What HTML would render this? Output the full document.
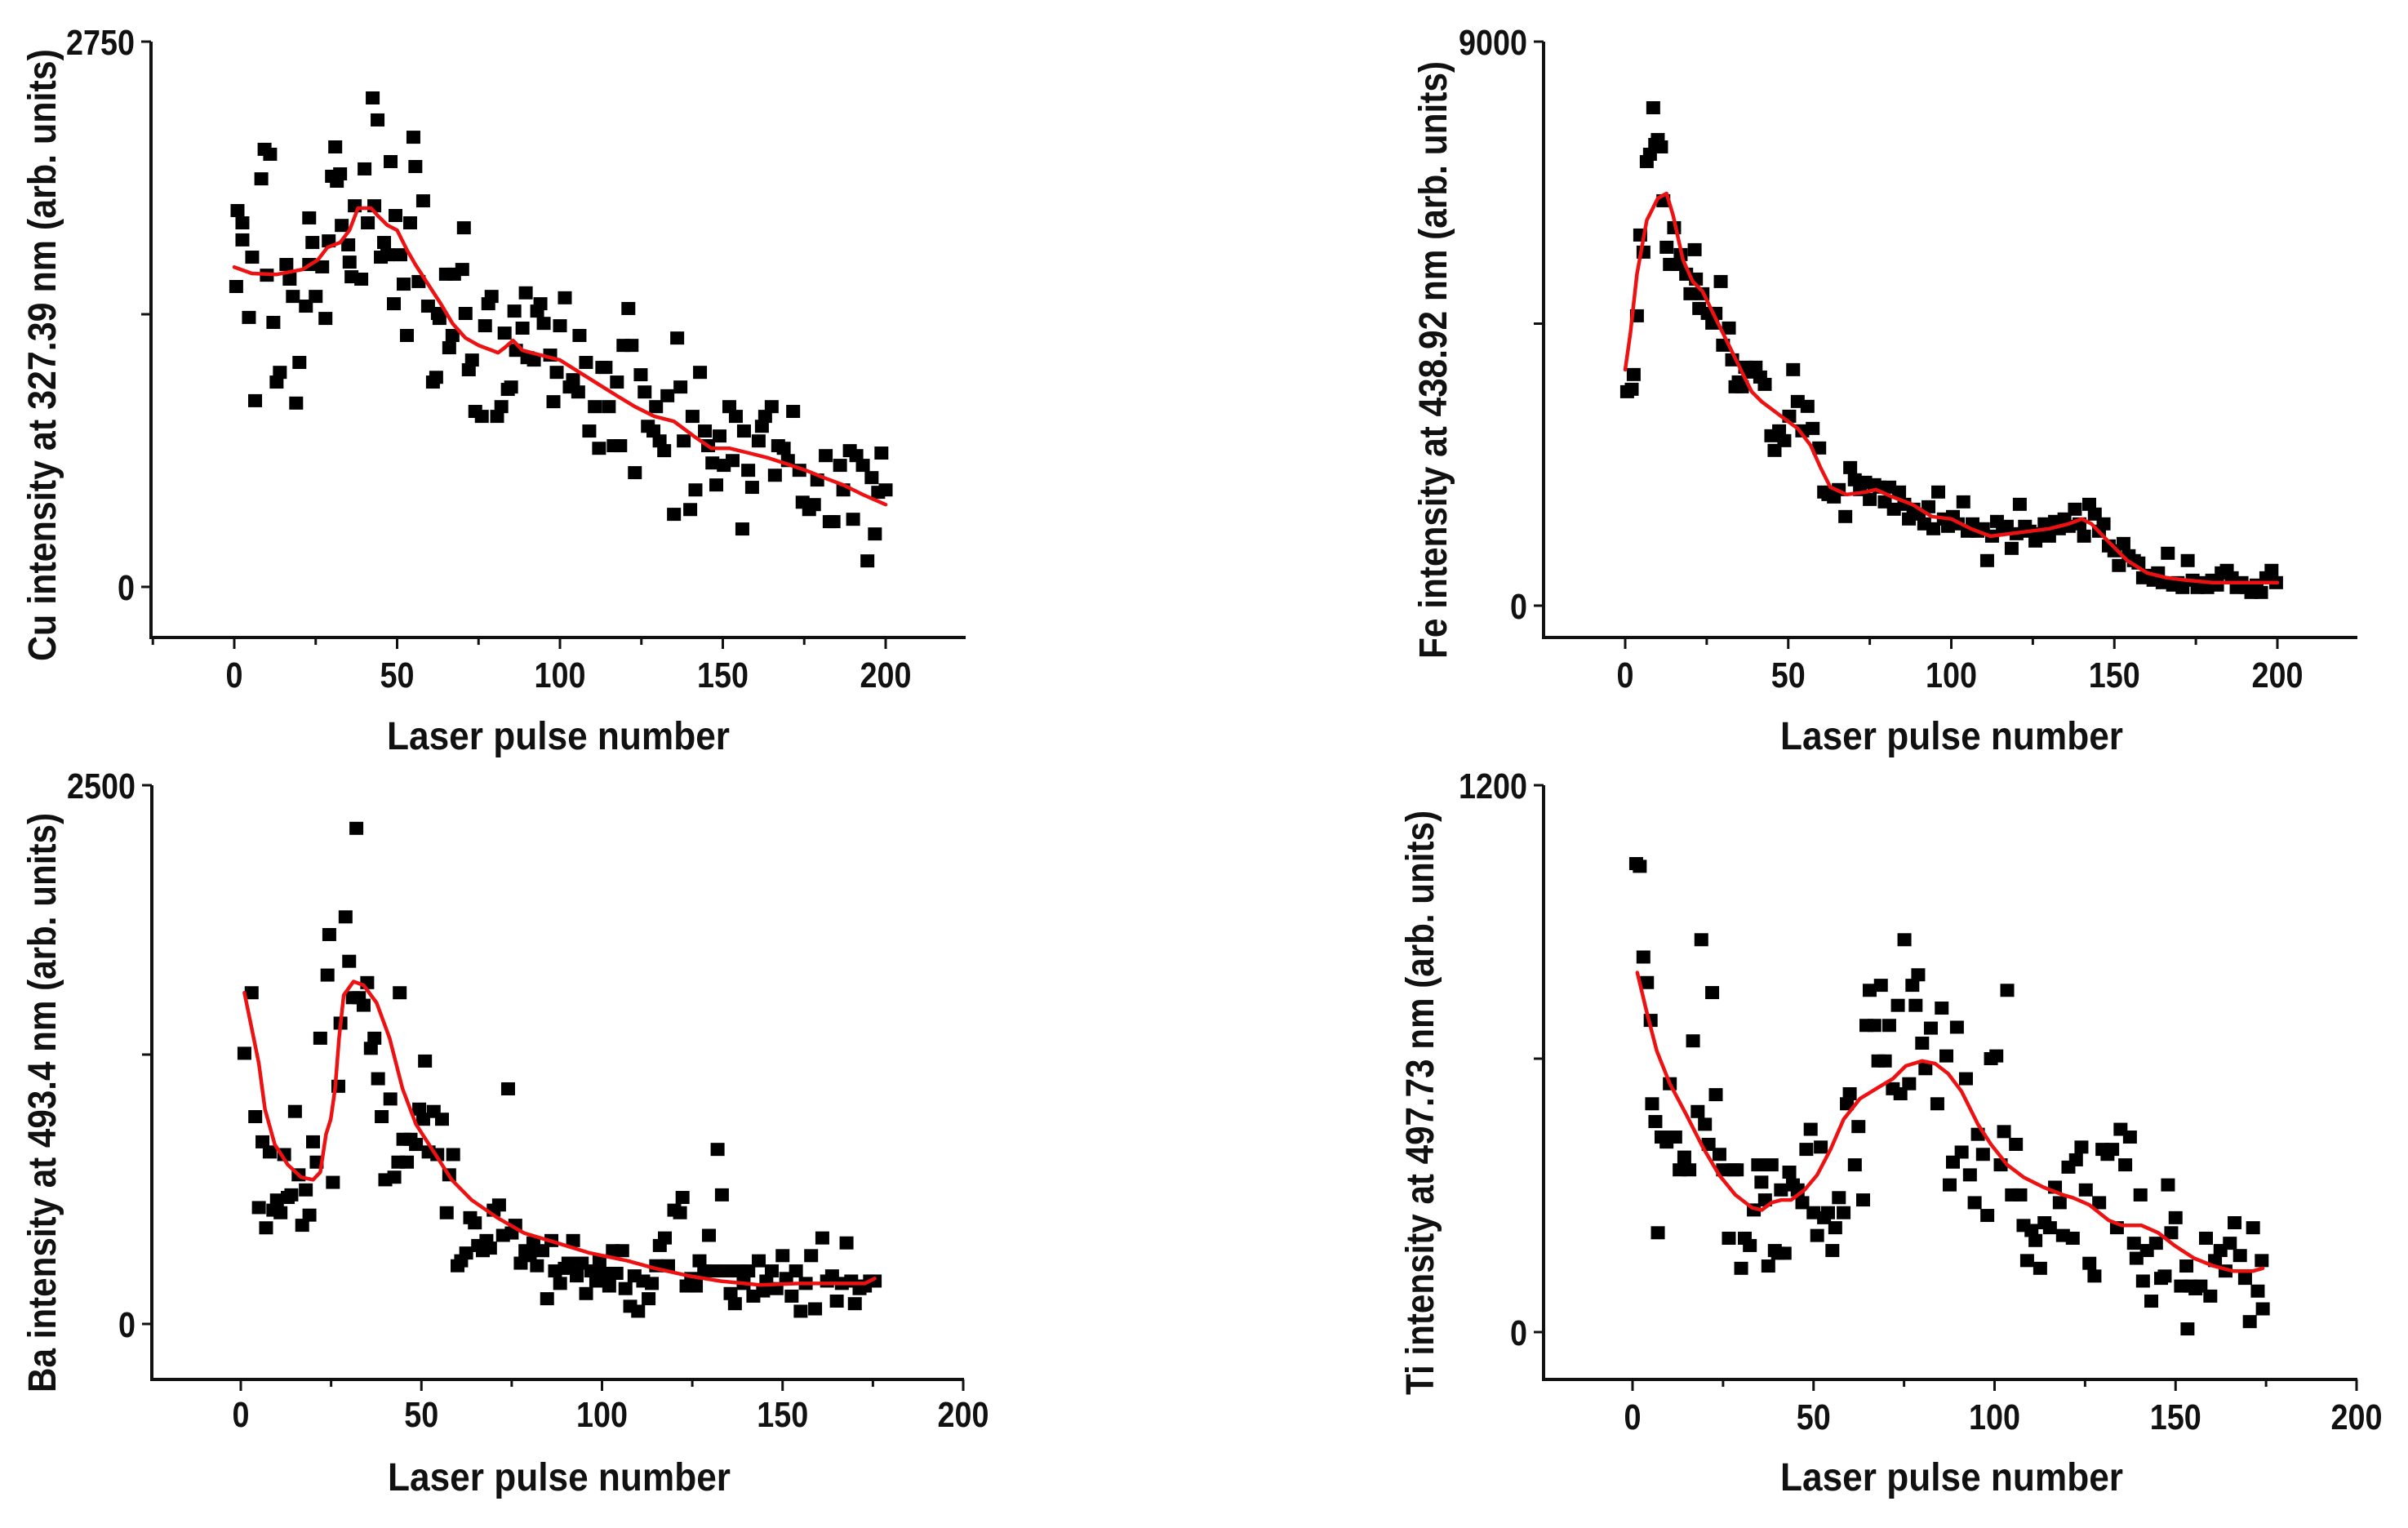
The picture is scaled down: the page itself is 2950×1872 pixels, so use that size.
<!DOCTYPE html>
<html><head><meta charset="utf-8"><style>
html,body{margin:0;padding:0;background:#fff}
svg{display:block}
text{font-family:"Liberation Sans",Arial,sans-serif;font-weight:bold;fill:#111}
</style></head><body>
<svg id="fig" width="2950" height="1872" viewBox="0 0 2950 1872"></svg>
<script>
// ---------- DATA ----------
const xTickLabels=[0,50,100,150,200];
const cuPulse=[0.6,1,2.5,2.5,4.5,5.5,6.4,8.3,9.3,11,10,12,13,14,16,17,18,19,20,22,23,23,24,25,27,28,29,30,31,31.5,32.5,33,35,35.4,36,37,39,40,41,42.5,43,44,45,46,47,48,49,49.5,51,52,53,54,55,55.6,56.6,58,59.5,61,62,62.5,63,65,66,67,67.5,70,70.5,71,72,73,74,76,77,78,79,80.7,82,83,84,85,86,86.5,88.5,89.5,90,92,93,94,95,97,98,99,100,101.5,103,104,105.6,106,108,109,110.7,112,113,114,115,116.5,117.5,118.5,119.5,121,122,123,124.8,126,127,128.7,129.5,130.6,132,133,135,136,137,138,140,140.7,141.6,143,144.5,145.5,146.8,148,149,150.3,152,153,154,156,156.5,157.8,159,161,162,163,165,166,167,168.7,170,171.6,173.5,174.5,176.5,178,179,181.6,182.8,184,186,187,189,190,191,193,194.4,195.7,196.7,197.7,198.7,200];
const cuIntensity=[1515,1898,1836,1750,1359,1663,939,2058,2207,2182,1572,1334,1033,1082,1626,1552,1465,927,1132,1416,1626,1861,1737,1465,1614,1354,1745,2071,2219,2046,2083,1823,1725,1638,1564,1922,1552,2108,1836,2466,1922,2355,1663,1737,1675,2145,1428,1873,1675,1527,1268,1836,2268,2120,1540,1947,1416,1033,1057,1379,1354,1577,1206,1268,1577,1601,1811,1379,1095,1144,885,860,1317,1428,1465,860,909,1280,996,1008,1391,1193,1305,1483,1156,1144,1391,1428,1329,1169,934,1082,1317,1458,1008,1045,983,1268,1132,786,909,699,1107,1107,909,712,1033,712,1218,1404,1218,576,1070,983,810,786,909,736,687,964,366,1255,1008,736,390,860,489,1082,786,712,625,514,761,613,909,637,860,292,786,588,502,736,810,860,909,563,712,699,637,885,588,427,390,415,539,662,329,329,613,489,687,341,662,613,131,551,267,477,675,489];
const cuFitPulse=[0,5.4,13,21,25.7,28.6,32.5,35.4,38,40,42,44,47,50,53,55.6,59.5,63.4,67,71,75,81,83,85.6,88.5,94,100,106,112,118,123,129,135,141,146.5,152,158,164,170,175.5,181,187,193,200];
const cuFitValue=[1613,1581,1576,1601,1650,1712,1737,1799,1910,1910,1910,1873,1824,1799,1700,1626,1527,1428,1329,1255,1218,1181,1206,1243,1193,1169,1144,1082,1020,959,909,860,835,761,699,699,675,650,618,588,551,514,465,415];

const fePulse=[0.6,2,2.6,3.6,4.6,5.6,6.6,7.6,8.6,9.2,10,11,11.7,12.7,13.7,15,16,17,18.7,20,21.3,21.7,22.7,23.7,25.3,26.7,27.7,29.3,30,31.8,32.8,33.8,34.8,35.8,36.8,38,40,41.4,42.8,44.8,45.8,47.2,48.8,50.3,51.5,52.9,54.3,55.9,57.5,59.5,61,62.3,64,65.5,67.5,69,70.4,72,73.6,75,76.4,78,79.6,81,82.4,84,85.6,87,88.4,90,91.7,93,94.5,96,97.7,99,100.5,102,103.7,105,106.5,108,109.7,111,112.5,114,115.8,117,118.5,120,121,122.6,124,125.8,127,128.6,130,131.8,133,134.7,136,137.9,139.3,140.7,142.3,144,145.3,146.7,148.3,150,151.4,152.8,154.4,156,157.4,158.8,160.4,162,163.4,164.8,166.4,168,169.4,170.9,172.5,174,175.5,176.9,178.5,180,181.5,182.9,184.5,186,187.5,189,190.5,192,193.6,195,196.6,198.2,199.6];
const feIntensity=[3414,3453,3688,4625,5914,5641,7086,7203,7945,7359,7438,7320,6461,5719,5445,6031,5445,5602,5289,4977,5680,5211,4742,4977,4664,4508,4664,5172,4156,4430,3922,3492,3570,3492,3805,3727,3805,3648,3531,2711,2477,2789,2633,3023,3766,3258,2789,3180,2828,2516,1813,1773,1734,1852,1422,2203,2008,1852,1969,1695,1930,1891,1656,1891,1539,1813,1617,1383,1539,1461,1305,1578,1227,1813,1383,1266,1422,1305,1656,1188,1305,1188,1227,719,1109,1344,1227,1266,914,1148,1617,1266,1188,1031,1148,1305,1109,1344,1227,1383,1266,1539,1305,1109,1617,1461,1188,1305,953,875,641,992,797,719,680,445,484,406,523,367,836,328,367,289,719,406,289,367,289,406,328,523,563,445,289,367,289,211,328,211,445,563,367];
const feFitPulse=[0,1.6,3.6,6.6,10,12.7,14.7,17.7,20.7,23.7,27.7,31.8,35.8,38.8,41.8,47.8,52.9,56.9,59.9,62.9,67.9,73.8,76.9,82,88,94,100,106,112,118,124,130,136,140,143,148,154,160,166,172,180,188,200];
const feFitValue=[3766,4352,5289,6148,6500,6578,6227,5523,5172,5016,4586,4156,3727,3414,3258,3023,2828,2555,2203,1891,1773,1813,1852,1734,1617,1422,1383,1227,1109,1148,1188,1227,1305,1383,1305,1031,719,523,445,406,367,367,367];

const baPulse=[1,3,4,5,6,7,8,9,10,11,12,13,14,15,16,17,18,19,20,21,22,24,24.5,25.5,27,27.6,29,30,31,32,32.7,34,35,36,37,38,39,40,41.4,42.5,43.6,44,45,46,47,48.5,49.4,50.5,51,52,53.4,54.4,55.7,57,57.7,58.8,60,61,62.4,63.5,64.8,65.7,67,68,69,70,71.5,72.6,74,75,76,77.5,78.8,80,81,82,83.5,84.8,86,87,88.4,89.7,90.7,92,93,94.4,95.6,97,98.4,99.3,100.5,102,103,104,105.6,106.5,107.8,109,110,111.4,112.9,113.8,115,116,117.4,118.3,120,121.6,122.3,123.4,124.7,126,127,128.3,129.6,130.7,132,133.2,134.3,135.6,136.8,138,139.2,140.5,141.9,143.4,144.6,145.5,147,148.3,150,151,152.5,153.7,155,156.4,157.9,159,161,162.3,163.7,165,166.4,167.7,169,170,171.3,172.8,174.2,175.5];
const baIntensity=[1256,1537,962,540,845,446,798,528,575,516,786,587,599,986,692,458,622,505,845,751,1326,1619,1807,657,1103,1396,1889,1683,1514,2300,1514,1479,1584,1279,1326,1138,962,669,1044,681,751,1537,857,751,857,833,997,950,1220,798,986,786,950,516,692,786,270,293,329,493,469,364,340,387,352,528,552,411,1091,422,458,282,340,317,376,270,340,117,387,246,188,258,282,387,223,282,141,246,199,293,235,176,340,235,340,164,82,223,59,199,117,188,270,364,399,270,528,516,587,176,211,176,293,246,411,246,810,599,246,141,94,246,188,246,129,293,153,199,246,164,317,211,129,246,59,188,317,70,399,199,223,106,188,376,199,94,164,176,199,199];
const baFitPulse=[1,3,5,6.7,9.4,13,16.7,20,22,23.6,24.9,26.1,27.2,28.5,31.2,34,37.6,41.2,44.8,48.5,53,58.4,63.9,71,78.4,87.5,96.6,107,114.7,124,132.8,143.7,154.6,165.5,172.8,175.5];
const baFitValue=[1537,1373,1209,997,833,739,681,669,704,880,950,1091,1326,1526,1589,1572,1490,1326,1091,927,810,669,575,493,422,376,329,293,258,223,199,181,188,188,188,211];

const tiPulse=[1,2,3,4,5,5.4,6.3,7,8,9.4,10.3,11.8,13,14.3,15.7,16.7,18,19,20,21,22,23,24,25,26.6,27.8,28.8,30,31,32.4,33.5,34.7,35.6,36.6,37.5,38.4,39.3,40.2,41,42,43.3,44.3,45.6,46.9,48,49.2,50,51,52,52.9,54,55.2,56,57,58.3,59.2,60,61.4,62.4,63.7,64.6,65.5,66.8,67.9,68.6,69.7,70.9,71.9,73.3,74,75.1,76.4,77.3,78.2,78.9,80,80.9,82.4,84.2,85.4,86.7,87.6,88.5,89.6,90.9,92.1,93.2,94.5,95.4,96.8,98,99,100.5,101.7,102.6,103.5,104.8,105.9,107.1,108,109,110.2,111.3,112.6,113.8,115.3,116.7,118,118.9,120.4,121.6,122.5,124,125.2,126.2,127.6,128.9,129.8,131.2,132.5,133.8,134.8,136.1,137.4,138.5,139.2,140.3,141,142.1,143.3,144.6,146,147,147.9,148.8,150,151.5,153,153.3,154.2,155.5,156.9,158.4,159.6,160.9,162.4,163.8,165,166.3,167.8,169.2,170.5,171.4,172.7,173.8,174.1];
const tiIntensity=[1028,1022,823,767,684,501,462,218,428,417,545,428,356,384,356,639,484,861,456,412,745,521,390,356,206,356,356,140,206,190,268,367,329,290,145,367,179,173,312,173,351,323,312,284,401,445,262,212,406,251,262,179,229,295,262,501,523,367,451,290,673,750,673,595,761,595,673,534,717,523,861,545,761,717,784,634,578,667,501,711,606,323,373,669,395,556,345,284,434,390,256,600,606,367,440,750,301,412,301,234,157,223,201,140,240,229,318,284,212,362,206,378,406,312,151,123,284,401,390,401,229,445,367,428,195,162,301,112,179,68,195,118,123,323,218,251,101,145,7,101,95,101,206,79,157,179,134,195,240,168,118,23,229,90,157,51];
const tiFitPulse=[1.3,4,6.7,10.3,14.8,19.4,23.9,28.4,33,35.7,38.4,41.1,43.8,47.5,51,54.7,58.3,62.8,67.3,71.9,75.5,80,83.6,87.2,90.9,95.4,99,103.5,108,113.5,118.9,121.6,126.2,131.6,135.2,140.6,145.2,149.7,155.1,160.5,165.9,171.4,174.1];
const tiFitValue=[789,700,617,545,478,406,345,301,273,268,284,290,290,312,345,401,467,512,534,556,584,595,589,567,528,456,412,367,340,318,301,295,279,245,234,234,218,190,162,145,134,134,140];

// ---------- LAYOUT (pixels) ----------
const NS="http://www.w3.org/2000/svg";
const svg=document.getElementById('fig');
function mk(tag,attrs,parent){const e=document.createElementNS(NS,tag);for(const k in attrs)e.setAttribute(k,attrs[k]);(parent||svg).appendChild(e);return e;}

function panel(p){
  const g=mk('g',{});
  
  
  const sx=v=>p.x0+(v-0)*(p.x200-p.x0)/200;
  const sy=v=>p.yZero-v*(p.yZero-p.yTop)/p.ymax;
  const ya=mk('line',{x1:p.ax,y1:p.yTop,x2:p.ax,y2:p.xAxisY,stroke:'#111','stroke-width':4},g);
  
  
  const xa=mk('line',{x1:p.ax-2,y1:p.xAxisY,x2:p.xRight,y2:p.xAxisY,stroke:'#111','stroke-width':4},g);
  
  
  [0,p.ymax/2,p.ymax].forEach(v=>{mk('line',{x1:p.ax-12,y1:sy(v),x2:p.ax,y2:sy(v),stroke:'#111','stroke-width':3},g);});
  [[0,'0'],[p.ymax,String(p.ymax)]].forEach(([v,s])=>{
    const t=mk('text',{x:p.ax-20,y:sy(v)+16,'font-size':44,'text-anchor':'end',textLength:s.length*21,lengthAdjust:'spacingAndGlyphs'},g);
    t.textContent=s;
    
    
  });
  for(let v=-25;v<=225;v+=25){const px=sx(v);if(px<p.ax+2||px>p.xRight+1)continue;
    const major=(v%50===0);
    mk('line',{x1:px,y1:p.xAxisY,x2:px,y2:p.xAxisY+(major?14:9),stroke:'#111','stroke-width':3},g);}
  xTickLabels.forEach(v=>{const s=String(v);
    const t=mk('text',{x:sx(v),y:p.tickBase,'font-size':44,'text-anchor':'middle',textLength:s.length*21,lengthAdjust:'spacingAndGlyphs'},g);
    t.textContent=s;
    
    
  });
  const xl=mk('text',{x:p.xlX,y:p.xlY,'font-size':48,'text-anchor':'middle',textLength:420,lengthAdjust:'spacingAndGlyphs'},g);
  xl.textContent='Laser pulse number';
  
  
  const yl=mk('text',{x:0,y:0,'font-size':48,'text-anchor':'middle',textLength:p.ylLen,lengthAdjust:'spacingAndGlyphs',transform:`translate(${p.ylX},${p.ylY}) rotate(-90)`},g);
  yl.textContent=p.ylabel;
  
  
  const pg=mk('g',{fill:'#000'},g);
  
  
  p.px.forEach((x,i)=>{
    const r=mk('rect',{x:sx(x)-8.5,y:sy(p.py[i])-8,width:17,height:16},pg);
    
    
  });
  const d=p.fx.map((x,i)=>(i?'L':'M')+sx(x).toFixed(1)+','+sy(p.fy[i]).toFixed(1)).join(' ');
  const path=mk('path',{d:d,fill:'none',stroke:'#ee1111','stroke-width':4.5,'stroke-linejoin':'round','stroke-linecap':'round'},g);
  
  
}

panel({name:'cu',ax:185,yTop:51,yZero:719,xAxisY:781,x0:287,x200:1085,xRight:1183,ymax:2750,tickBase:842,
  xlX:684,xlY:918,ylX:68,ylY:435,ylLen:750,ylabel:'Cu intensity at 327.39 nm (arb. units)',
  px:cuPulse,py:cuIntensity,fx:cuFitPulse,fy:cuFitValue});
panel({name:'fe',ax:1891,yTop:51,yZero:742,xAxisY:781,x0:1991,x200:2790,xRight:2888,ymax:9000,tickBase:842,
  xlX:2391,xlY:918,ylX:1772,ylY:441,ylLen:732,ylabel:'Fe intensity at 438.92 nm (arb. units)',
  px:fePulse,py:feIntensity,fx:feFitPulse,fy:feFitValue});
panel({name:'ba',ax:186,yTop:962,yZero:1622,xAxisY:1690,x0:295,x200:1180,xRight:1181,ymax:2500,tickBase:1748,
  xlX:685,xlY:1826,ylX:68,ylY:1351,ylLen:710,ylabel:'Ba intensity at 493.4 nm (arb. units)',
  px:baPulse,py:baIntensity,fx:baFitPulse,fy:baFitValue});
panel({name:'ti',ax:1891,yTop:962,yZero:1632,xAxisY:1690,x0:2000,x200:2887,xRight:2888,ymax:1200,tickBase:1751,
  xlX:2391,xlY:1826,ylX:1756,ylY:1351,ylLen:716,ylabel:'Ti intensity at 497.73 nm (arb. units)',
  px:tiPulse,py:tiIntensity,fx:tiFitPulse,fy:tiFitValue});
</script>
</body></html>
